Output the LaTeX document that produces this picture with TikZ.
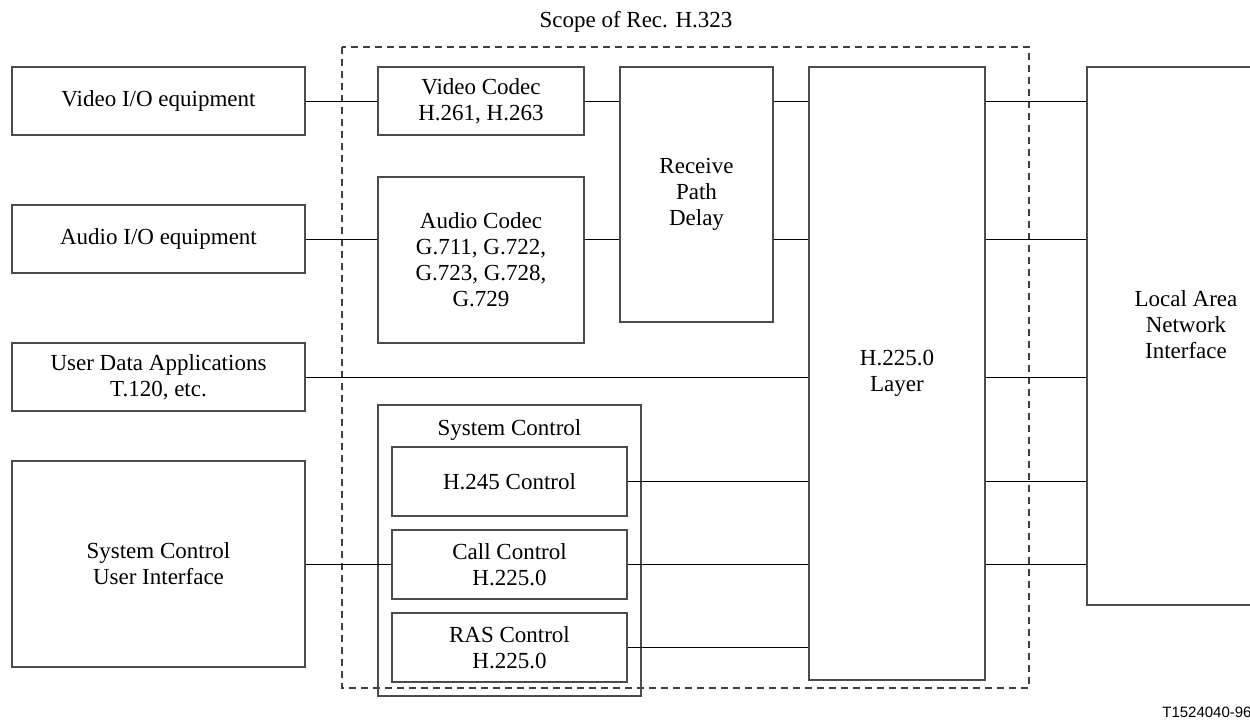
\documentclass[tikz,border=0pt]{standalone}
\usepackage{fontspec}
\setmainfont{Liberation Serif}
\newfontfamily\labelsans{Liberation Sans}
\begin{document}
\begin{tikzpicture}[x=0.5pt,y=-0.5pt,
  box/.style={draw=black!70, line width=0.9pt, rectangle, align=center, inner sep=0pt,
    font=\fontsize{11.5}{13}\selectfont},
  txt/.style={align=center, inner sep=0pt, font=\fontsize{11.5}{13}\selectfont},
  link/.style={draw=black, line width=0.5pt},
  scope box/.style={draw=black!75, line width=0.8pt, dash pattern=on 3.5pt off 2.5pt}]
\useasboundingbox (0,0) rectangle (1250,719);
% scope
\draw[scope box] (342,47) rectangle (1029,688);
\node[txt] (scopelbl) at (636,22) {Scope of Rec. H.323};
% left equipment
\node[box, minimum width=146.5pt, minimum height=34pt] (vio) at (158.5,101) {Video I/O equipment};
\node[box, minimum width=146.5pt, minimum height=34pt] (aio) at (158.5,239) {Audio I/O equipment};
\node[box, minimum width=146.5pt, minimum height=34pt] (uda) at (158.5,377) {User Data Applications\\T.120, etc.};
\node[box, minimum width=146.5pt, minimum height=103pt] (scui) at (158.5,564) {System Control\\User Interface};
% codecs
\node[box, minimum width=103pt, minimum height=34pt] (vc) at (481,101) {Video Codec\\H.261, H.263};
\node[box, minimum width=103pt, minimum height=83pt] (ac) at (481,260) {Audio Codec\\G.711, G.722,\\G.723, G.728,\\G.729};
\node[box, minimum width=76.5pt, minimum height=127.5pt] (rpd) at (696.5,194.5) {Receive\\Path\\Delay};
\node[box, minimum width=88pt, minimum height=306.5pt] (h225) at (897,373.5) {H.225.0\\Layer};
\node[box, minimum width=113pt, minimum height=269pt] (lan) at (1200,336) {};
\node[txt] (lantext) at (1186,325) {Local Area\\Network\\Interface};
% system control
\node[box, minimum width=131.5pt, minimum height=145.5pt] (sc) at (509.5,550.5) {};
\node[txt] (sclbl) at (509.5,430) {System Control};
\node[box, minimum width=117.5pt, minimum height=34.5pt] (h245) at (509.5,481.5) {H.245 Control};
\node[box, minimum width=117.5pt, minimum height=34.5pt] (cc) at (509.5,564.5) {Call Control\\H.225.0};
\node[box, minimum width=117.5pt, minimum height=34.5pt] (ras) at (509.5,647.5) {RAS Control\\H.225.0};
% connectors
\draw[link] (vio.east) -- (vc.west);
\draw[link] (vc.east) -- (rpd.west |- vc.east);
\draw[link] (rpd.east |- vc.east) -- (h225.west |- vc.east);
\draw[link] (h225.east |- vc.east) -- (lan.west |- vc.east);
\draw[link] (aio.east) -- (ac.west |- aio.east);
\draw[link] (ac.east |- aio.east) -- (rpd.west |- aio.east);
\draw[link] (rpd.east |- aio.east) -- (h225.west |- aio.east);
\draw[link] (h225.east |- aio.east) -- (lan.west |- aio.east);
\draw[link] (uda.east) -- (h225.west |- uda.east);
\draw[link] (h225.east |- uda.east) -- (lan.west |- uda.east);
\draw[link] (h245.east) -- (h225.west |- h245.east);
\draw[link] (h225.east |- h245.east) -- (lan.west |- h245.east);
\draw[link] (scui.east |- cc.west) -- (cc.west);
\draw[link] (cc.east) -- (h225.west |- cc.east);
\draw[link] (h225.east |- cc.east) -- (lan.west |- cc.east);
\draw[link] (ras.east) -- (h225.west |- ras.east);
% figure code
\node[anchor=base east, inner sep=0pt, font=\labelsans\fontsize{7.5}{9}\selectfont] (figcode) at (1252,717) {T1524040-96};
\end{tikzpicture}
\end{document}
